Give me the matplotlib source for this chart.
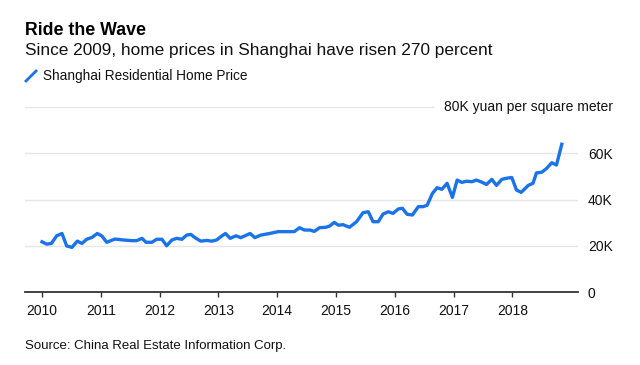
import matplotlib
matplotlib.use("Agg")
import matplotlib.pyplot as plt
from matplotlib.lines import Line2D

plt.rcParams['font.family'] = ['Liberation Sans', 'DejaVu Sans']

# decimal year, price in thousand yuan per square meter
dates = [2010.00, 2010.08, 2010.16, 2010.25, 2010.34, 2010.42, 2010.51, 2010.60,
         2010.68, 2010.76, 2010.85, 2010.94, 2011.02, 2011.10, 2011.24, 2011.38,
         2011.53, 2011.61, 2011.70, 2011.77, 2011.87, 2011.95, 2012.04, 2012.12,
         2012.21, 2012.29, 2012.38, 2012.46, 2012.53, 2012.62, 2012.70, 2012.80,
         2012.89, 2012.97, 2013.04, 2013.12, 2013.20, 2013.30, 2013.38, 2013.54,
         2013.62, 2013.72, 2013.85, 2014.02, 2014.29, 2014.38, 2014.46, 2014.56,
         2014.63, 2014.72, 2014.83, 2014.89, 2014.97, 2015.04, 2015.12, 2015.23,
         2015.35, 2015.46, 2015.55, 2015.63, 2015.72, 2015.80, 2015.89, 2015.97,
         2016.06, 2016.13, 2016.21, 2016.30, 2016.40, 2016.48, 2016.55, 2016.64,
         2016.72, 2016.80, 2016.89, 2016.98, 2017.06, 2017.14, 2017.22, 2017.31,
         2017.39, 2017.48, 2017.56, 2017.65, 2017.73, 2017.82, 2017.90, 2017.99,
         2018.07, 2018.15, 2018.27, 2018.35, 2018.41, 2018.50, 2018.58, 2018.67,
         2018.75, 2018.84]
prices = [21.7, 20.7, 21.0, 24.3, 25.3, 19.9, 19.3, 22.0,
          21.0, 22.8, 23.6, 25.3, 24.2, 21.5, 22.9, 22.5,
          22.2, 22.2, 23.2, 21.5, 21.5, 22.8, 22.8, 20.0,
          22.5, 23.2, 22.8, 24.6, 24.9, 23.2, 22.0, 22.3,
          22.0, 22.5, 23.9, 25.3, 23.2, 24.3, 23.5, 25.3,
          23.5, 24.6, 25.2, 26.1, 26.1, 27.8, 26.8, 26.8,
          26.2, 27.8, 28.0, 28.5, 30.1, 28.9, 29.1, 28.0,
          30.4, 34.3, 34.7, 30.4, 30.4, 33.7, 34.7, 34.0,
          35.9, 36.2, 33.6, 33.3, 36.9, 36.9, 37.5, 42.6,
          45.1, 44.4, 47.0, 40.9, 48.4, 47.4, 47.9, 47.7,
          48.4, 47.5, 46.5, 48.7, 46.1, 48.7, 49.2, 49.5,
          44.1, 43.1, 46.1, 47.0, 51.5, 51.8, 53.4, 55.9,
          54.9, 63.9]

years = [2010, 2011, 2012, 2013, 2014, 2015, 2016, 2017, 2018]
yticks = [0, 20, 40, 60]
ylabels = ['0', '20K', '40K', '60K']

blue = '#1a73e8'
W, H = 640, 365

fig = plt.figure(figsize=(6.4, 3.65), dpi=100)
ax = fig.add_axes([25/W, 1 - 292/H, 553/W, 185/H])

ax.plot(dates, prices, color=blue, lw=2.4, solid_joinstyle='round', zorder=3)

ax.set_xlim(2009.711, 2019.116)
ax.set_ylim(0, 80)

for y in [20, 40, 60]:
    ax.axhline(y, color='#e6e6e6', lw=1, zorder=1)
ax.axhline(80, xmax=0.738, color='#e6e6e6', lw=1, zorder=1, clip_on=False)
ax.text(1.063, 80, '80K yuan per square meter', transform=ax.get_yaxis_transform(),
        ha='right', va='center', fontsize=10, color='#111111')

for s in ['top', 'left', 'right']:
    ax.spines[s].set_visible(False)
ax.spines['bottom'].set_color('#333333')
ax.spines['bottom'].set_linewidth(1.3)

ax.set_xticks(years)
ax.set_xticklabels([str(y) for y in years])
ax.tick_params(axis='x', length=3.6, width=1, color='#333333', pad=5,
               labelsize=10, labelcolor='#111111')

ax.yaxis.tick_right()
ax.set_yticks(yticks)
ax.set_yticklabels(ylabels)
ax.tick_params(axis='y', length=0, pad=7.2, labelsize=10, labelcolor='#111111')

fig.text(25/W, 1 - 35/H, 'Ride the Wave', fontsize=12.8, fontweight='bold',
         va='baseline', color='#000000')
fig.text(25/W, 1 - 55/H, 'Since 2009, home prices in Shanghai have risen 270 percent',
         fontsize=12.4, va='baseline', color='#111111')
fig.add_artist(Line2D([26/W, 36/W], [1 - 81/H, 1 - 71/H], color=blue, lw=2,
                      transform=fig.transFigure))
fig.text(43/W, 1 - 80/H, 'Shanghai Residential Home Price', fontsize=9.8,
         va='baseline', color='#111111')
fig.text(25/W, 1 - 349/H, 'Source: China Real Estate Information Corp.',
         fontsize=9.5, va='baseline', color='#111111')

fig.savefig('out.png', dpi=100)
